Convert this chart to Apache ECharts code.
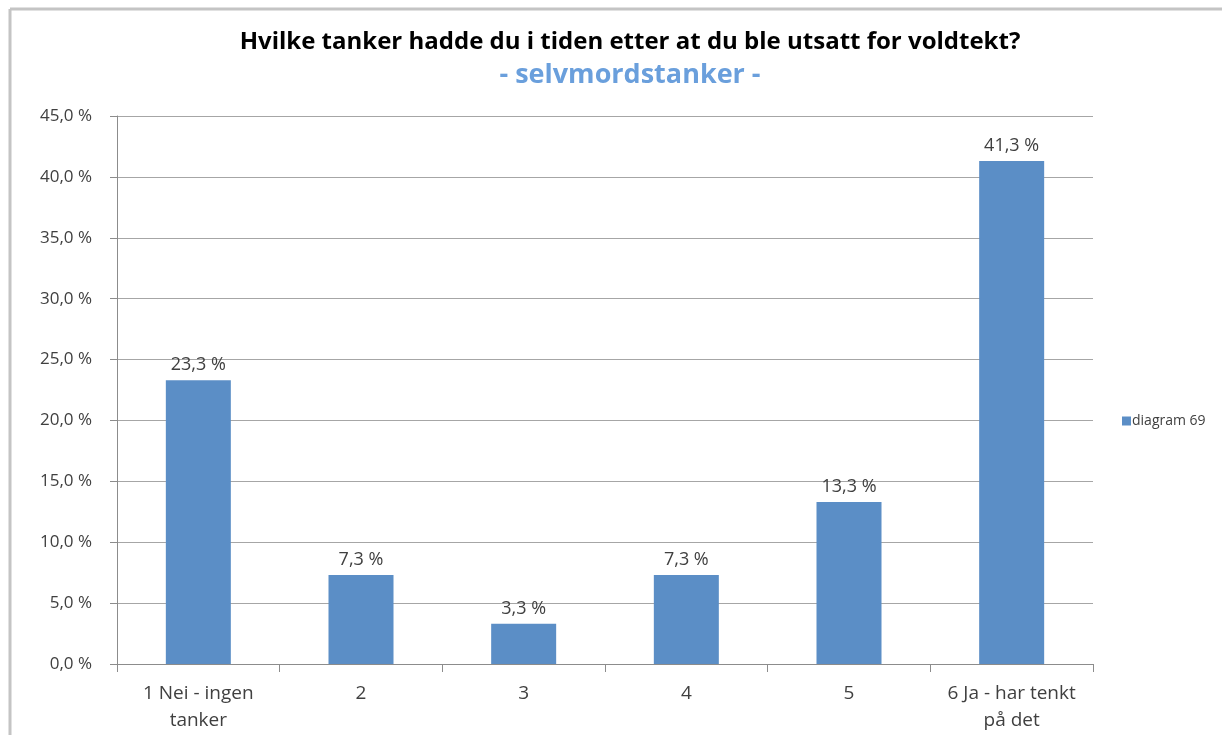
<!DOCTYPE html>
<html lang="no">
<head>
    <meta charset="UTF-8">
    <title>selvmordstanker</title>
    <script src="https://cdn.jsdelivr.net/npm/echarts@6/dist/echarts.min.js"></script>
    <style>
        html, body { margin: 0; padding: 0; background: #fff; }
        #main { width: 1222px; height: 735px; }
    </style>
</head>
<body>
<div id="main"></div>
<script>
    var categories = ['1 Nei - ingen\ntanker', '2', '3', '4', '5', '6 Ja - har tenkt\npå det'];
    var values = [23.3, 7.3, 3.3, 7.3, 13.3, 41.3];
    var seriesName = 'diagram 69';

    function pct(v) {
        return v.toFixed(1).replace('.', ',') + ' %';
    }

    var myChart = echarts.init(document.getElementById('main'));
    var font = 'Open Sans';

    var option = {
        animation: false,
        backgroundColor: '#fff',
        title: [{
            text: 'Hvilke tanker hadde du i tiden etter at du ble utsatt for voldtekt?',
            left: 625,
            textAlign: 'center',
            top: 25,
            textStyle: { fontFamily: font, fontSize: 24, fontWeight: 'bold', color: '#000' }
        }, {
            text: '- selvmordstanker -',
            left: 625,
            textAlign: 'center',
            top: 57,
            textStyle: { fontFamily: font, fontSize: 27, fontWeight: 'bold', color: '#6a9fdc' }
        }],
        legend: {
            data: [seriesName],
            orient: 'vertical',
            left: 1117,
            top: 409,
            itemWidth: 9,
            itemHeight: 9,
            itemGap: 4,
            icon: 'rect',
            textStyle: { fontFamily: font, fontSize: 14, color: '#404040', padding: [0, 0, 0, -4] }
        },
        grid: {
            left: 117,
            right: 129,
            top: 116,
            bottom: 71
        },
        xAxis: {
            type: 'category',
            data: categories,
            axisLine: { lineStyle: { color: '#8c8c8c', width: 1 } },
            axisTick: { show: true, alignWithLabel: false, length: 8, lineStyle: { color: '#8c8c8c' } },
            axisLabel: {
                fontFamily: font, fontSize: 19, color: '#404040',
                margin: 16, lineHeight: 27, interval: 0
            }
        },
        yAxis: {
            type: 'value',
            min: 0,
            max: 45,
            interval: 5,
            axisLine: { show: true, lineStyle: { color: '#8c8c8c' } },
            axisTick: { show: true, length: 7, lineStyle: { color: '#8c8c8c' } },
            splitLine: { lineStyle: { color: '#a6a6a6', width: 1 } },
            axisLabel: {
                fontFamily: font, fontSize: 17, color: '#404040', margin: 25,
                formatter: function (v) { return pct(v); }
            }
        },
        graphic: [{
            type: 'line',
            shape: { x1: 10, y1: 9, x2: 1222, y2: 9 },
            style: { stroke: '#c4c4c4', lineWidth: 3 }
        }, {
            type: 'line',
            shape: { x1: 10, y1: 9, x2: 10, y2: 735 },
            style: { stroke: '#c4c4c4', lineWidth: 3 }
        }],
        series: [{
            name: seriesName,
            type: 'bar',
            data: values,
            barWidth: 65,
            itemStyle: { color: '#5b8ec6' },
            label: {
                show: true,
                position: 'top',
                distance: 6,
                fontFamily: font,
                fontSize: 18,
                color: '#404040',
                formatter: function (p) { return pct(p.value); }
            }
        }]
    };
    myChart.setOption(option);
</script>
</body>
</html>
